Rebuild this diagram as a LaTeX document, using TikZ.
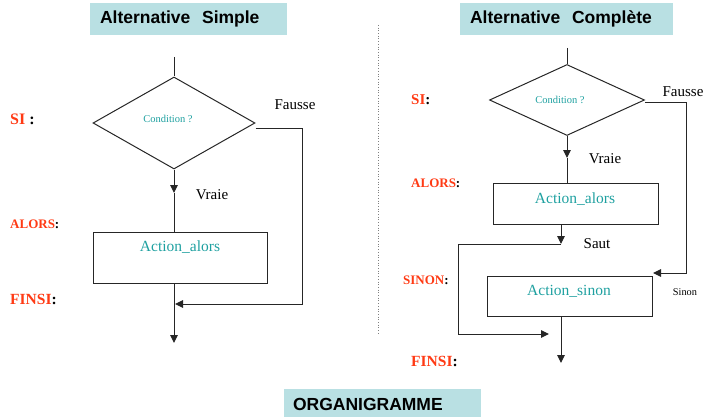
\documentclass[tikz,border=0pt]{standalone}
\usepackage{fontspec}
\setmainfont{Liberation Serif}
\newfontfamily\titlefont{Liberation Sans}
\usetikzlibrary{shapes.geometric,arrows.meta,calc}
\definecolor{titlebg}{RGB}{185,224,227}
\definecolor{actcol}{RGB}{30,160,160}
\definecolor{kwred}{RGB}{255,58,20}
\begin{document}
\begin{tikzpicture}[x=1pt,y=-1pt,
  flow/.style={draw=black!85, line width=1pt},
  arr/.style={flow, -{Triangle[length=8pt,width=7.5pt]}},
  titlebox/.style={fill=titlebg, inner ysep=0pt, inner xsep=10pt, align=left,
    font=\titlefont\bfseries\fontsize{17.5}{20}\selectfont},
  decision/.style={diamond, draw=black!85, line width=1pt, inner sep=0pt},
  actionbox/.style={rectangle, draw=black!85, line width=1pt, inner sep=0pt},
  acttext/.style={text=actcol, font=\fontsize{15.5}{18}\selectfont, inner sep=0pt},
  condtext/.style={text=actcol, font=\fontsize{10.5}{12}\selectfont, inner sep=0pt},
  note/.style={font=\fontsize{#1}{#1}\selectfont, inner sep=0pt},
  kw/.style={font=\bfseries\fontsize{#1}{#1}\selectfont, inner sep=0pt, anchor=west},
]
\useasboundingbox (0,0) rectangle (706,417);

% ---------- titles ----------
\node[titlebox, text width=177pt, minimum height=32pt] (title1) at (188.5,19) {Alternative\ \ Simple};
\node[titlebox, text width=193pt, minimum height=32pt] (title2) at (566.5,19) {Alternative\ \ Complète};
\node[titlebox, inner xsep=9pt, text width=179pt, minimum height=30pt] (title3) at (382.5,404) {ORGANIGRAMME};

% separator between the two flowcharts
\coordinate (sepTop) at (378,25);
\coordinate (sepBot) at (378,335);
\draw[gray, dotted, line width=0.7pt] (sepTop) -- (sepBot);

% ---------- simple alternative ----------
\node[decision, minimum width=162pt, minimum height=92pt] (d1) at (174,123) {};
\node[condtext] (c1) at (168,119) {Condition ?};
\node[actionbox, minimum width=174pt, minimum height=51pt] (b1) at (180,257.5) {};
\node[acttext] (a1) at (180,247) {Action\_alors};

\node[note=15] (fausse1) at (295,105) {Fausse};
\node[note=15] (vraie1) at (212,195) {Vraie};

\node[kw=16] (si1) at (10,119) {\textcolor{kwred}{SI} :};
\node[kw=13] (alors1) at (10,224) {\textcolor{kwred}{ALORS}:};
\node[kw=15.5] (finsi1) at (10,299) {\textcolor{kwred}{FINSI}:};

\coordinate (t1) at (174,57);
\coordinate (v1) at (174,193);
\coordinate (f1) at (302,128);
\coordinate (f1b) at (302,304);
\coordinate (j1) at (175,304);
\coordinate (e1) at (174,343);
\draw[flow] (t1) -- (d1.north);
\draw[arr] (d1.south) -- (v1);
\draw[flow] (v1) -- (b1.north -| v1);
\draw[arr] ([yshift=-5pt]d1.east) -- (f1) -- (f1b) -- (j1);
\draw[arr] (b1.south -| v1) -- (e1);

% ---------- complete alternative ----------
\node[decision, minimum width=155pt, minimum height=71pt] (d2) at (567,100) {};
\node[condtext] (c2) at (560,100) {Condition ?};
\node[actionbox, minimum width=165pt, minimum height=41pt] (b2) at (575.5,203.5) {};
\node[acttext] (a2) at (575,199) {Action\_alors};
\node[actionbox, minimum width=165pt, minimum height=40pt] (b3) at (569.5,296) {};
\node[acttext] (a3) at (569,291) {Action\_sinon};

\node[note=15] (fausse2) at (683,92) {Fausse};
\node[note=15] (vraie2) at (605,159) {Vraie};
\node[note=15] (saut) at (597,244) {Saut};
\node[note=10.3] (sinon) at (685,292) {Sinon};

\node[kw=15] (si2) at (411,100) {\textcolor{kwred}{SI}:};
\node[kw=13] (alors2) at (411,183) {\textcolor{kwred}{ALORS}:};
\node[kw=13] (sinon2) at (403,280) {\textcolor{kwred}{SINON}:};
\node[kw=15.5] (finsi2) at (411,361) {\textcolor{kwred}{FINSI}:};

\coordinate (t2) at (567,48);
\coordinate (v2) at (567,158);
\coordinate (s1) at (561,244);
\coordinate (s2) at (458,244);
\coordinate (s3) at (458,334);
\coordinate (s4) at (549,334);
\coordinate (f2) at (686,103);
\coordinate (f2b) at (686,273);
\coordinate (j2) at (653,273);
\coordinate (e2) at (561,363);
\draw[flow] (t2) -- (d2.north);
\draw[arr] (d2.south) -- (v2);
\draw[flow] (v2) -- (b2.north -| v2);
\draw[arr] (b2.south -| s1) -- (s1);
\draw[arr] (s1) -- (s2) -- (s3) -- (s4);
\draw[arr] ([yshift=-3pt]d2.east) -- (f2) -- (f2b) -- (j2);
\draw[arr] (b3.south -| e2) -- (e2);
\end{tikzpicture}
\end{document}
